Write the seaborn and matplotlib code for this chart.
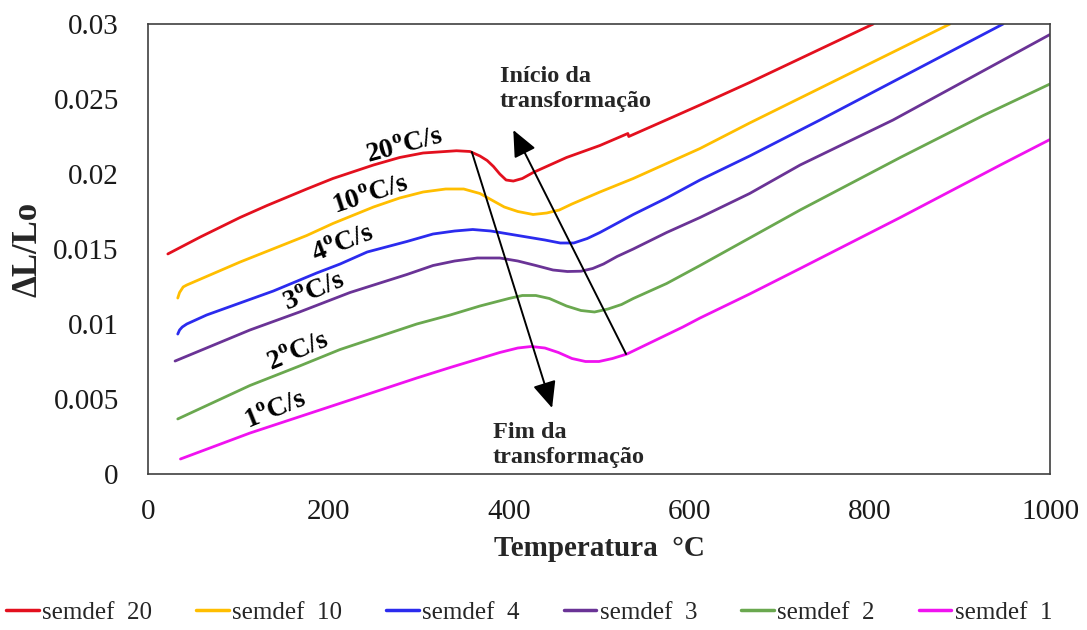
import matplotlib
matplotlib.use("Agg")
import matplotlib.pyplot as plt
from matplotlib.lines import Line2D
import numpy as np
import pandas as pd
import seaborn as sns

# Dilatometry curves: relative length change vs temperature, one per heating rate
t_20 = [22, 58, 102, 132, 176, 205, 250, 279, 305, 342, 357, 368, 376, 383, 390, 397, 405, 415, 427, 464, 501, 532, 533,
        582, 612, 667, 804]
v_20 = [0.01467, 0.0158, 0.0171, 0.0179, 0.0190, 0.0197, 0.0206, 0.0211, 0.0214, 0.02155, 0.0215, 0.0212, 0.0209, 0.0205,
        0.0200, 0.0196, 0.01953, 0.0197, 0.0201, 0.0211, 0.0219, 0.0227, 0.0225, 0.0238, 0.0246, 0.0261, 0.0300]

t_10 = [33, 35, 39, 43, 102, 176, 205, 250, 279, 305, 330, 350, 368, 380, 395, 410, 427, 442, 456, 470, 501, 538, 575, 612,
        667, 889]
v_10 = [0.01173, 0.0121, 0.01247, 0.0126, 0.01413, 0.0159, 0.0167, 0.0178, 0.0184, 0.0188, 0.0190, 0.0190, 0.0187,
        0.0183, 0.0178, 0.0175, 0.0173, 0.0174, 0.0176, 0.0180, 0.0188, 0.0197, 0.0207, 0.0217, 0.0234, 0.0300]

t_4 = [33, 35, 38, 43, 65, 139, 187, 213, 243, 287, 316, 340, 360, 380, 400, 420, 440, 457, 472, 487, 501, 538, 575, 612,
       667, 745, 948]
v_4 = [0.00933, 0.0096, 0.0098, 0.0100, 0.0106, 0.0122, 0.0134, 0.0140, 0.0148, 0.0155, 0.0160, 0.0162, 0.0163, 0.0162,
       0.0160, 0.0158, 0.0156, 0.0154, 0.0154, 0.0157, 0.0161, 0.0173, 0.0184, 0.0196, 0.0212, 0.0236, 0.0300]

t_3 = [30, 113, 168, 224, 287, 316, 340, 365, 390, 410, 430, 449, 465, 480, 493, 505, 520, 538, 575, 612, 667, 723, 826, 1000]
v_3 = [0.00753, 0.0096, 0.0108, 0.0121, 0.0133, 0.0139, 0.0142, 0.0144, 0.0144, 0.0142, 0.0139, 0.0136, 0.0135, 0.01352,
       0.0137, 0.0140, 0.0145, 0.0150, 0.0161, 0.0171, 0.0187, 0.0206, 0.0236, 0.0293]

t_2 = [33, 113, 168, 213, 298, 335, 368, 400, 415, 430, 445, 464, 480, 495, 510, 525, 538, 575, 612, 723, 834, 926, 1000]
v_2 = [0.00367, 0.0059, 0.0072, 0.0083, 0.0100, 0.0106, 0.0112, 0.0117, 0.0119, 0.0119, 0.0117, 0.0112, 0.0109, 0.0108,
       0.0110, 0.0113, 0.0117, 0.0127, 0.0139, 0.0176, 0.0211, 0.0239, 0.0260]

t_1 = [36, 113, 224, 298, 335, 368, 390, 410, 425, 440, 455, 470, 485, 500, 515, 531, 593, 612, 667, 723, 834, 945, 1000]
v_1 = [0.0010, 0.00273, 0.00493, 0.0064, 0.0071, 0.0077, 0.0081, 0.0084, 0.0085, 0.0084, 0.0081, 0.0077, 0.0075, 0.0075,
       0.0077, 0.0080, 0.0098, 0.0104, 0.0120, 0.0137, 0.0171, 0.0206, 0.0223]

series_names = ["semdef  20", "semdef  10", "semdef  4", "semdef  3", "semdef  2", "semdef  1"]
series_colors = ["#E3101E", "#FFBE00", "#2B2BEE", "#6A3396", "#6AA84F", "#F012F0"]
rate_labels = ["20", "10", "4", "3", "2", "1"]

# Rate label placement (temperature, dL/Lo, rotation)
label_t = [285, 247, 216, 184, 167, 142]
label_v = [0.02185, 0.01855, 0.0153, 0.0121, 0.0081, 0.0042]
label_rot = [15, 18, 21, 23, 23, 22]

x_ticks = [0, 200, 400, 600, 800, 1000]
y_ticks = [0, 0.005, 0.01, 0.015, 0.02, 0.025, 0.03]
y_ticklabels = ["0", "0.005", "0.01", "0.015", "0.02", "0.025", "0.03"]

frames = []
for name, t, v in zip(series_names, [t_20, t_10, t_4, t_3, t_2, t_1], [v_20, v_10, v_4, v_3, v_2, v_1]):
    frames.append(pd.DataFrame({"T": t, "dL": v, "serie": name}))
df = pd.concat(frames, ignore_index=True)

sns.set_theme(style="white")
plt.rcParams["font.family"] = ["Liberation Serif", "DejaVu Serif"]
plt.rcParams["mathtext.fontset"] = "custom"
plt.rcParams["mathtext.rm"] = "Liberation Serif"
plt.rcParams["mathtext.bf"] = "Liberation Serif:bold"

fig = plt.figure(figsize=(10.87, 6.30), dpi=100)
ax = fig.add_axes([148 / 1087, 1 - 474 / 630, (1050 - 148) / 1087, (474 - 24) / 630])

sns.lineplot(data=df, x="T", y="dL", hue="serie", hue_order=series_names,
             palette=series_colors, estimator=None, sort=False, lw=2.0,
             legend=False, ax=ax)

ax.set_xlim(0, 1000)
ax.set_ylim(0, 0.03)
ax.set_xticks(x_ticks)
ax.set_xticklabels([str(x) for x in x_ticks])
ax.set_yticks(y_ticks)
ax.set_yticklabels(y_ticklabels)
ax.tick_params(axis="both", length=0, labelsize=21, colors="#1a1a1a")
ax.tick_params(axis="y", pad=21)
ax.tick_params(axis="x", pad=18)
for s in ax.spines.values():
    s.set_color("#404040")
    s.set_linewidth(1.2)
    s.set_visible(True)

ax.set_xlabel("Temperatura  °C", fontsize=21, fontweight="bold", labelpad=7)
ax.set_ylabel("ΔL/Lo", fontsize=25, fontweight="bold", labelpad=6)

for r, t, v, rot in zip(rate_labels, label_t, label_v, label_rot):
    ax.text(t, v, r + r"$^{\mathbf{o}}$C/s", fontsize=20, fontweight="bold",
            rotation=rot, rotation_mode="anchor", ha="center", va="center", color="black")

# Transformation start / end markers
ax.annotate("", xy=(448, 0.0044), xytext=(359, 0.02147),
            arrowprops=dict(arrowstyle="-|>,head_length=0.9,head_width=0.4", color="black",
                            lw=1.4, shrinkA=0, shrinkB=0, mutation_scale=18))
ax.annotate("", xy=(405, 0.02293), xytext=(530, 0.0080),
            arrowprops=dict(arrowstyle="-|>,head_length=0.9,head_width=0.4", color="black",
                            lw=1.4, shrinkA=0, shrinkB=0, mutation_scale=18))
ax.text(390, 0.0272, "Início da\ntransformação", fontsize=17.5, fontweight="bold",
        ha="left", va="top", linespacing=1.25)
ax.text(382, 0.0035, "Fim da\ntransformação", fontsize=17.5, fontweight="bold",
        ha="left", va="top", linespacing=1.25)

ax.set_facecolor("white")
fig.patch.set_facecolor("white")

handles = [Line2D([0], [0], color=c, lw=2.5) for c in series_colors]
fig.legend(handles, series_names, loc="center", bbox_to_anchor=(0.487, 0.028), ncol=6,
           frameon=False, fontsize=18, handlelength=1.3, handletextpad=0.15,
           columnspacing=1.75)

fig.savefig("out.png", dpi=100, facecolor="white")
